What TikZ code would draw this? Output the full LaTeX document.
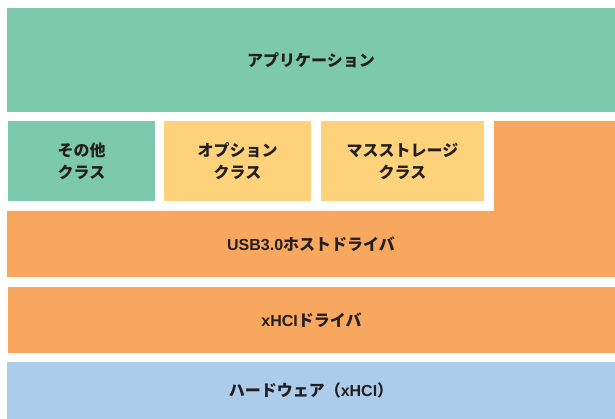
\documentclass[tikz,border=0pt]{standalone}
\usepackage{fontspec}
\setmainfont{Liberation Sans}
\newfontfamily\jpfont{Noto Sans CJK JP}
\definecolor{appgreen}{HTML}{7DC9AE}
\definecolor{drvorange}{HTML}{F8A85E}
\definecolor{clsyellow}{HTML}{FDD27B}
\definecolor{hwblue}{HTML}{ABCDEB}
\definecolor{ink}{HTML}{231F20}
\begin{document}
\begin{tikzpicture}[x=1pt,y=-1pt,
	layer/.style={fill=#1,draw=none,inner sep=0pt,text=ink,align=center,
		font=\bfseries\fontsize{16}{22}\selectfont}]
	\useasboundingbox (0,0) rectangle (615,419);
	\node[layer=appgreen,minimum width=608pt,minimum height=104pt] (app) at (311,60) {\jpfont アプリケーション};
	\node[layer=appgreen,minimum width=147pt,minimum height=80pt] (other) at (81.5,161) {\jpfont その他\\\jpfont クラス};
	\node[layer=clsyellow,minimum width=147pt,minimum height=80pt] (option) at (237.5,161) {\jpfont オプション\\\jpfont クラス};
	\node[layer=clsyellow,minimum width=163pt,minimum height=80pt] (mass) at (402.5,161) {\jpfont マスストレージ\\\jpfont クラス};
	\fill[drvorange] (494,121) -- (615,121) -- (615,277) -- (7,277) -- (7,211) -- (494,211) -- cycle;
	\node[layer=drvorange,fill=none] (usb) at (311,244) {USB3.0\jpfont ホストドライバ};
	\node[layer=drvorange,minimum width=607pt,minimum height=66pt] (xhci) at (311.5,320) {xHCI\jpfont ドライバ};
	\node[layer=hwblue,minimum width=608pt,minimum height=57pt] (hw) at (311,390.5) {\jpfont ハードウェア（{\rmfamily xHCI}）};
\end{tikzpicture}
\end{document}
